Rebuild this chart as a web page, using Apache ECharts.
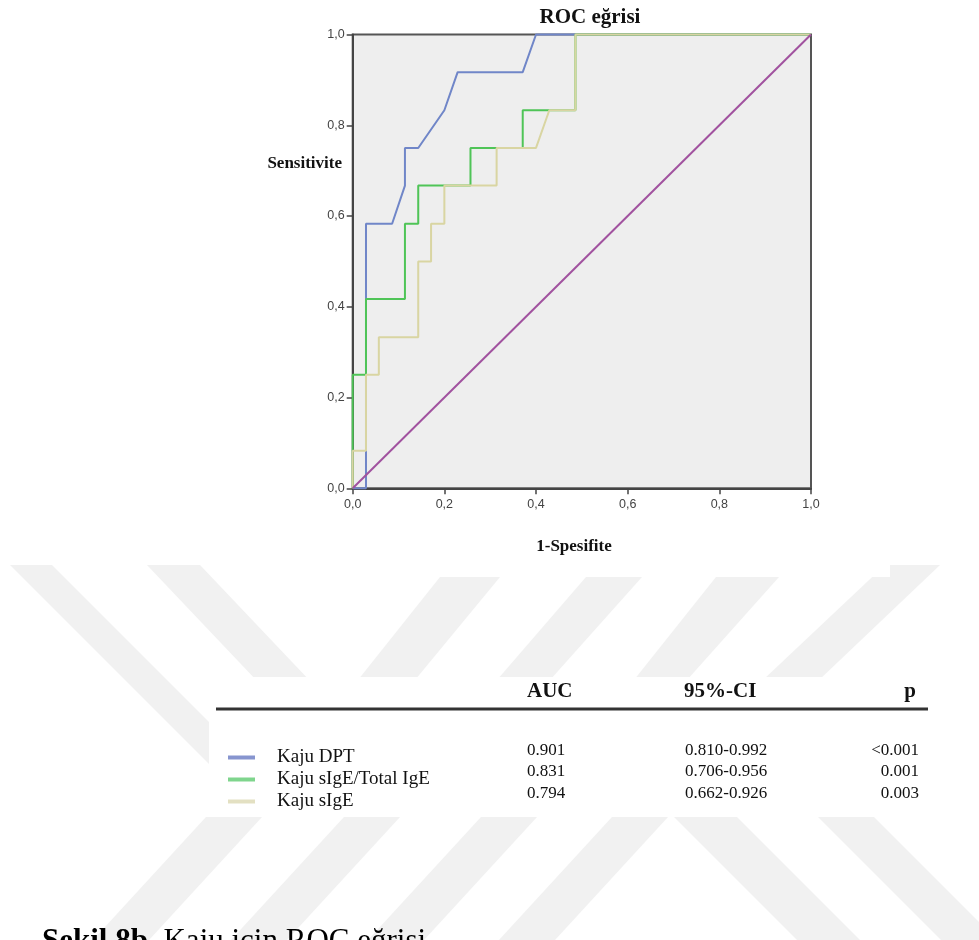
<!DOCTYPE html>
<html>
<head>
<meta charset="utf-8">
<script src="https://cdn.jsdelivr.net/npm/echarts@6/dist/echarts.min.js"></script>
<style>
  html, body { margin: 0; padding: 0; background: #ffffff; }
  #chart { width: 979px; height: 940px; }
</style>
</head>
<body>
<div id="chart"></div>
<script>
// ---- Data ----
// ROC curve points: x = 1 - Specificity, y = Sensitivity
const dptFPR   = [0, 0.029, 0.029, 0.086, 0.114, 0.114, 0.143, 0.200, 0.229, 0.371, 0.400, 1];
const dptTPR   = [0, 0,     0.583, 0.583, 0.667, 0.750, 0.750, 0.833, 0.917, 0.917, 1,     1];

const ratioFPR = [0, 0,    0.029, 0.029, 0.114, 0.114, 0.143, 0.143, 0.257, 0.257, 0.371, 0.371, 0.486, 0.486, 1];
const ratioTPR = [0, 0.25, 0.25,  0.417, 0.417, 0.583, 0.583, 0.667, 0.667, 0.750, 0.750, 0.833, 0.833, 1,     1];

const sigeFPR  = [0, 0,     0.029, 0.029, 0.057, 0.057, 0.143, 0.143, 0.171, 0.171, 0.200, 0.200, 0.314, 0.314, 0.400, 0.429, 0.486, 0.486, 1];
const sigeTPR  = [0, 0.083, 0.083, 0.250, 0.250, 0.333, 0.333, 0.500, 0.500, 0.583, 0.583, 0.667, 0.667, 0.750, 0.750, 0.833, 0.833, 1,     1];

const refFPR   = [0, 1];
const refTPR   = [0, 1];

const seriesNames = ['Kaju DPT', 'Kaju sIgE/Total IgE', 'Kaju sIgE'];
const aucValues   = ['0.901', '0.831', '0.794'];
const ciValues    = ['0.810-0.992', '0.706-0.956', '0.662-0.926'];
const pValues     = ['<0.001', '0.001', '0.003'];
const tableHeaders = ['AUC', '95%-CI', 'p'];
const tickValues  = [0, 0.2, 0.4, 0.6, 0.8, 1.0];
const tickLabels  = ['0,0', '0,2', '0,4', '0,6', '0,8', '1,0'];

// ---- Styling ----
const lineColors   = ['#7086c8', '#4fc457', '#d9d5a2'];
const legendColors = ['#8795cf', '#7fd58d', '#e3e0c2'];
const refColor = '#a1529f';
const serif = '"Liberation Serif", "Times New Roman", serif';
const sans  = '"Liberation Sans", Arial, sans-serif';

function pairs(xs, ys) { return xs.map((x, i) => [x, ys[i]]); }
function tickFmt(v) {
  const i = tickValues.findIndex(t => Math.abs(t - v) < 1e-9);
  return i >= 0 ? tickLabels[i] : '';
}

// watermark bands (page decoration, not data)
const bandColor = '#f1f1f1';
function band(yTop, xl1, xr1, yBot, xl2, xr2) {
  return { type: 'polygon', silent: true, z: 0,
    shape: { points: [[xl1, yTop], [xr1, yTop], [xr2, yBot], [xl2, yBot]] },
    style: { fill: bandColor } };
}
const bands = [
  band(565, 10, 52, 812, 257, 299),
  band(565, 147, 200, 780, 351, 404),
  band(577, 440, 500, 680, 358, 415),
  band(577, 586, 642, 680, 497, 550),
  band(577, 716, 779, 680, 634, 687),
  band(565, 885, 940, 680, 763, 819),
  band(817, 206, 262, 940, 93, 149),
  band(817, 344, 400, 940, 231, 287),
  band(817, 481, 537, 940, 368, 424),
  band(817, 612, 668, 940, 499, 555),
  band(817, 674, 737, 940, 797, 860),
  band(817, 818, 874, 940, 941, 997)
];

const tableGraphics = [];
// white table box over the watermark
tableGraphics.push({ type: 'rect', silent: true, z: 1,
  shape: { x: 209, y: 677, width: 720, height: 140 }, style: { fill: '#ffffff' } });
// chart picture box bottom edge
tableGraphics.push({ type: 'rect', silent: true, z: 1,
  shape: { x: 300, y: 540, width: 590, height: 37 }, style: { fill: '#ffffff' } });
// header line
tableGraphics.push({ type: 'line', silent: true, z: 3,
  shape: { x1: 216, y1: 709, x2: 928, y2: 709 }, style: { stroke: '#333333', lineWidth: 3 } });
// headers
const headerX = [527, 684, 916];
const headerAlign = ['left', 'left', 'right'];
tableHeaders.forEach((h, i) => {
  tableGraphics.push({ type: 'text', z: 3, x: headerX[i], y: 692,
    style: { text: h, font: 'bold 21px ' + serif, fill: '#111', align: headerAlign[i], verticalAlign: 'middle' } });
});
const rowY = [751, 772, 794];
aucValues.forEach((v, i) => {
  tableGraphics.push({ type: 'text', z: 3, x: 527, y: rowY[i],
    style: { text: v, font: '17px ' + serif, fill: '#111', align: 'left', verticalAlign: 'middle' } });
  tableGraphics.push({ type: 'text', z: 3, x: 685, y: rowY[i],
    style: { text: ciValues[i], font: '17px ' + serif, fill: '#111', align: 'left', verticalAlign: 'middle' } });
  tableGraphics.push({ type: 'text', z: 3, x: 919, y: rowY[i],
    style: { text: pValues[i], font: '17px ' + serif, fill: '#111', align: 'right', verticalAlign: 'middle' } });
});

const axisTexts = [
  { type: 'text', z: 3, x: 342, y: 164,
    style: { text: 'Sensitivite', font: 'bold 17px ' + serif, fill: '#111', align: 'right', verticalAlign: 'middle' } },
  { type: 'text', z: 3, x: 574, y: 547,
    style: { text: '1-Spesifite', font: 'bold 17px ' + serif, fill: '#111', align: 'center', verticalAlign: 'middle' } },
  { type: 'text', z: 3, x: 42, y: 942,
    style: { text: '{b|Şekil 8b.} Kaju için ROC eğrisi', font: '31px ' + serif, fill: '#000',
      align: 'left', verticalAlign: 'middle',
      rich: { b: { font: 'bold 31px ' + serif, fill: '#000' } } } }
];

const chart = echarts.init(document.getElementById('chart'), null, { renderer: 'canvas' });
const option = {
  animation: false,
  backgroundColor: '#ffffff',
  title: {
    text: 'ROC eğrisi', left: 585, top: 2, textAlign: 'center',
    textStyle: { fontFamily: serif, fontWeight: 'bold', fontSize: 21, color: '#111' }
  },
  grid: {
    left: 352.7, top: 34.5, width: 458.3, height: 453.8,
    show: true, backgroundColor: '#eeeeee', borderColor: '#555555', borderWidth: 2
  },
  xAxis: {
    type: 'value', min: 0, max: 1, interval: 0.2,
    axisLine: { show: true, lineStyle: { color: '#444', width: 2 } },
    axisTick: { show: true, length: 6, lineStyle: { color: '#444', width: 1.5 } },
    axisLabel: { margin: 10, fontFamily: sans, fontSize: 12.5, color: '#444', formatter: tickFmt },
    splitLine: { show: false }
  },
  yAxis: {
    type: 'value', min: 0, max: 1, interval: 0.2,
    axisLine: { show: true, lineStyle: { color: '#444', width: 2 } },
    axisTick: { show: true, length: 6, lineStyle: { color: '#444', width: 1.5 } },
    axisLabel: { margin: 8, fontFamily: sans, fontSize: 12.5, color: '#444', formatter: tickFmt },
    splitLine: { show: false }
  },
  legend: {
    orient: 'vertical', left: 228, top: 747, padding: 0,
    itemWidth: 27, itemHeight: 4, itemGap: 1, icon: 'rect',
    textStyle: { fontFamily: serif, fontSize: 19, lineHeight: 21, color: '#111', padding: [0, 0, 0, 17] },
    data: seriesNames.map((n, i) => ({ name: n, itemStyle: { color: legendColors[i] } }))
  },
  series: [
    { name: seriesNames[0], type: 'line', data: pairs(dptFPR, dptTPR), showSymbol: false, symbol: 'none', clip: false,
      lineStyle: { color: lineColors[0], width: 2 }, itemStyle: { color: lineColors[0] }, z: 2 },
    { name: seriesNames[1], type: 'line', data: pairs(ratioFPR, ratioTPR), showSymbol: false, symbol: 'none', clip: false,
      lineStyle: { color: lineColors[1], width: 2 }, itemStyle: { color: lineColors[1] }, z: 3 },
    { name: seriesNames[2], type: 'line', data: pairs(sigeFPR, sigeTPR), showSymbol: false, symbol: 'none', clip: false,
      lineStyle: { color: lineColors[2], width: 2 }, itemStyle: { color: lineColors[2] }, z: 4 },
    { name: 'Referans', type: 'line', data: pairs(refFPR, refTPR), showSymbol: false, symbol: 'none', clip: false,
      lineStyle: { color: refColor, width: 2 }, itemStyle: { color: refColor }, z: 5 }
  ],
  graphic: { elements: bands.concat(tableGraphics, axisTexts) }
};
chart.setOption(option);
</script>
</body>
</html>
